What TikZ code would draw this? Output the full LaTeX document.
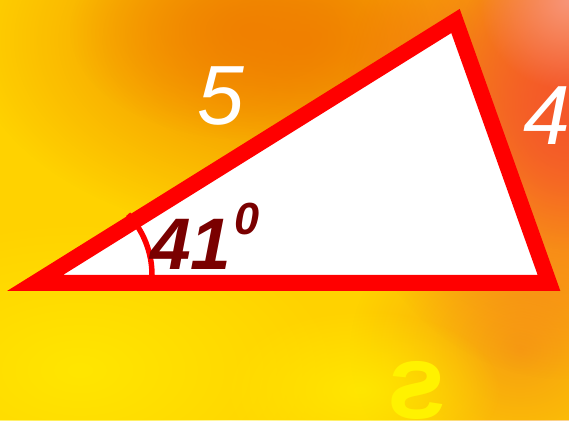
\documentclass[tikz,border=0pt]{standalone}
\usepackage{fontspec}
\setmainfont{Liberation Sans}
\usetikzlibrary{fadings}
\definecolor{bgyellow}{HTML}{FFD200}
\definecolor{bgorange}{HTML}{F08000}
\definecolor{bgred}{HTML}{F4582A}
\definecolor{bgsalmon}{HTML}{F8957A}
\definecolor{bglight}{HTML}{FFE600}
\definecolor{bgmid}{HTML}{F7A010}
\definecolor{darkred}{HTML}{7A0000}
\definecolor{tri}{HTML}{FF0000}
\tikzfading[name=glow, inner color=transparent!0, outer color=transparent!100]
\tikzset{
  side/.style={font=\itshape\fontsize{84}{84}\selectfont, text=white, inner sep=0pt},
  angletext/.style={font=\bfseries\itshape\fontsize{73}{73}\selectfont, text=darkred, inner sep=0pt},
  degtext/.style={font=\bfseries\itshape\fontsize{45}{45}\selectfont, text=darkred, inner sep=0pt},
  glyph/.style={font=\bfseries\fontsize{106}{106}\selectfont, text=yellow, inner sep=0pt},
}
\begin{document}
\begin{tikzpicture}[x=1pt,y=1pt]
\useasboundingbox (0,0) rectangle (569,420);
\begin{scope}
\clip (0,0) rectangle (569,420);
% background
\fill[bgyellow] (0,0) rectangle (569,420);
\fill[bgorange, path fading=glow] (300,380) ellipse (330pt and 200pt);
\fill[bgorange, path fading=glow] (250,390) ellipse (180pt and 110pt);
\fill[bgmid, path fading=glow] (520,70) ellipse (170pt and 150pt);
\fill[bgred, path fading=glow] (569,300) ellipse (230pt and 260pt);
\fill[bgred, path fading=glow] (569,330) ellipse (120pt and 160pt);
\fill[bgsalmon, path fading=glow] (569,420) circle (90pt);
\fill[bglight, path fading=glow] (80,50) ellipse (260pt and 150pt);
\fill[bglight, path fading=glow] (360,30) ellipse (140pt and 80pt);
% triangle
\coordinate (A) at (35,137);
\coordinate (B) at (455.5,399);
\coordinate (C) at (549,137);
\coordinate (O) at (63,145);
\fill[white] (A) -- (B) -- (C) -- cycle;
\draw[tri, line width=5.5pt] ([shift={(0:89pt)}]O) arc[start angle=0, end angle=43, radius=89pt];
\draw[tri, line width=16pt, line join=miter] (A) -- (B) -- (C) -- cycle;
% labels
\node[side, anchor=base] (five) at (221,295) {5};
\node[side, anchor=base west] (four) at (523,275) {4};
\node[angletext, anchor=base west] (ang) at (150,150) {41};
\node[degtext, anchor=base west] (deg) at (234,185) {0};
\node[glyph, anchor=base] (s) at (417,2) {\reflectbox{s}};
\end{scope}
\end{tikzpicture}
\end{document}
